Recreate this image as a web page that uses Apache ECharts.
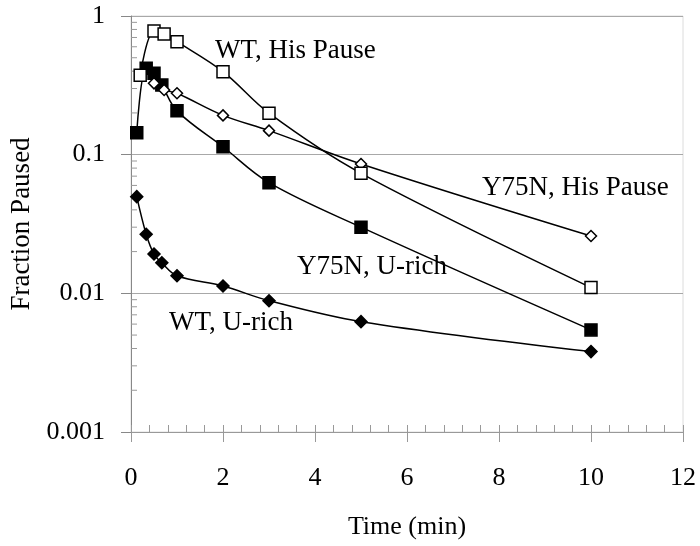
<!DOCTYPE html>
<html>
<head>
<meta charset="utf-8">
<script src="https://cdn.jsdelivr.net/npm/echarts@6/dist/echarts.min.js"></script>
<style>
html,body{margin:0;padding:0;background:#fff;}
#main{width:700px;height:546px;}
</style>
</head>
<body>
<div id="main"></div>
<script>
// times (min)
var tWtHis = [0.2, 0.5, 0.72, 1, 2, 3, 5, 10];
var tY75His = [0.5, 0.72, 1, 2, 3, 5, 10];
var tUrich = [0.125, 0.33, 0.5, 0.67, 1, 2, 3, 5, 10];

// fraction paused
var wtHisPause = [0.374, 0.78, 0.742, 0.653, 0.397, 0.199, 0.0734, 0.011];
var y75nHisPause = [0.327, 0.293, 0.277, 0.192, 0.149, 0.0857, 0.0259];
var y75nUrich = [0.144, 0.42, 0.386, 0.318, 0.207, 0.114, 0.0628, 0.030, 0.00545];
var wtUrich = [0.0498, 0.0267, 0.0192, 0.0166, 0.0134, 0.0113, 0.00885, 0.00625, 0.0038];

var yTicks = [0.001, 0.01, 0.1, 1];
var yTickLabels = ['0.001', '0.01', '0.1', '1'];

var font = 'Liberation Serif';
var noteFont = '27px "Liberation Serif"';

function pairs(t, v){
	var out = [];
	for(var i=0;i<t.length;i++){
		out.push([t[i], v[i]]);
	}
	return out;
}

// log minor ticks 2..9 in each decade
var minorY = [];
for(var d=0; d<yTicks.length-1; d++){
	for(var k=2;k<=9;k++){
		minorY.push([0, k*yTicks[d]]);
	}
}

function line(name, t, v, symbol, size, fill){
	return {
		name: name,
		type: 'line',
		data: pairs(t, v),
		smooth: 0.35,
		symbol: symbol,
		symbolSize: size,
		showAllSymbol: true,
		lineStyle: {color: '#000', width: 1.5},
		itemStyle: {color: fill, borderColor: '#000', borderWidth: 1.5},
		emphasis: {disabled: true},
		animation: false
	};
}

var myChart = echarts.init(document.getElementById('main'));
var option = {
	animation: false,
	grid: {
		left: 131, right: 17, top: 16, bottom: 114,
		show: true, borderColor: '#dcdcdc', borderWidth: 1
	},
	xAxis: [
		{
			type: 'value', min: 0, max: 12, interval: 2,
			name: 'Time (min)', nameLocation: 'middle', nameGap: 82,
			nameTextStyle: {fontFamily: font, fontSize: 26, color: '#000'},
			axisLine: {show: true, lineStyle: {color: '#999', width: 1}},
			axisTick: {show: true, inside: true, length: 7, lineStyle: {color: '#999'}},
			minorTick: {show: true, splitNumber: 5, length: 7, lineStyle: {color: '#999'}},
			axisLabel: {fontFamily: font, fontSize: 26, color: '#000', margin: 33},
			splitLine: {show: false}
		},
		{
			type: 'value', min: 0, max: 12, interval: 2, position: 'bottom',
			axisLine: {show: false},
			axisTick: {show: true, inside: false, length: 10, lineStyle: {color: '#999'}},
			axisLabel: {show: false},
			splitLine: {show: false}
		}
	],
	yAxis: {
		type: 'log', logBase: 10, min: 0.001, max: 1,
		name: 'Fraction Paused', nameLocation: 'middle', nameGap: 92,
		nameTextStyle: {fontFamily: font, fontSize: 27, color: '#000'},
		axisLine: {show: true, lineStyle: {color: '#888', width: 1}},
		axisTick: {show: true, inside: false, length: 10, lineStyle: {color: '#888'}},
		axisLabel: {
			fontFamily: font, fontSize: 26, color: '#000', margin: 26,
			formatter: function(v){
				for(var i=0;i<yTicks.length;i++){
					if(Math.abs(Math.log10(v) - Math.log10(yTicks[i])) < 1e-6) return yTickLabels[i];
				}
				return '';
			}
		},
		splitLine: {show: true, lineStyle: {color: '#a8a8a8', width: 1}}
	},
	series: [
		{
			type: 'custom',
			silent: true,
			clip: false,
			data: minorY,
			renderItem: function(params, api){
				var p = api.coord([0, api.value(1)]);
				return {
					type: 'line',
					shape: {x1: p[0], y1: p[1], x2: p[0] + 6, y2: p[1]},
					style: {stroke: '#999', lineWidth: 1}
				};
			},
			z: 1
		},
		line('Y75N, U-rich', tUrich, y75nUrich, 'rect', 12, '#000'),
		line('WT, U-rich', tUrich, wtUrich, 'diamond', 12, '#000'),
		line('Y75N, His Pause', tY75His, y75nHisPause, 'diamond', 11, '#fff'),
		line('WT, His Pause', tWtHis, wtHisPause, 'rect', 12, '#fff')
	],
	graphic: [
		{type: 'text', left: 215, top: 37, style: {text: 'WT, His Pause', font: noteFont, fill: '#000'}},
		{type: 'text', left: 482, top: 174, style: {text: 'Y75N, His Pause', font: noteFont, fill: '#000'}},
		{type: 'text', left: 297, top: 253, style: {text: 'Y75N, U-rich', font: noteFont, fill: '#000'}},
		{type: 'text', left: 169, top: 309, style: {text: 'WT, U-rich', font: noteFont, fill: '#000'}}
	]
};
myChart.setOption(option);
</script>
</body>
</html>
